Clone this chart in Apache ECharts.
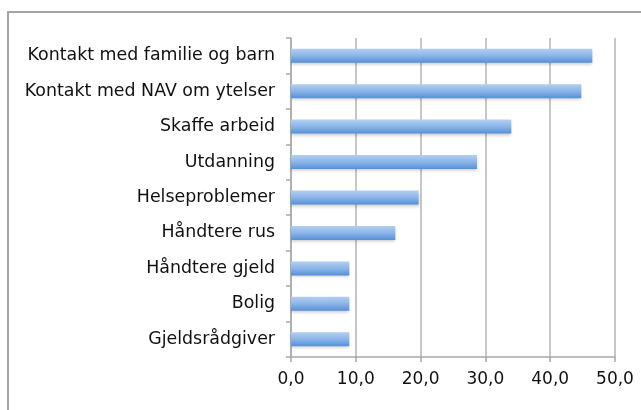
<!DOCTYPE html>
<html>
<head>
<meta charset="utf-8">
<script src="https://cdn.jsdelivr.net/npm/echarts@6/dist/echarts.min.js"></script>
<style>
  html, body { margin: 0; padding: 0; background: #fff; }
  #chart { width: 641px; height: 410px; }
</style>
</head>
<body>
<div id="chart"></div>
<script>
// Categories listed bottom-to-top (ECharts category y-axis starts at the bottom)
const categories = [
  'Gjeldsrådgiver',
  'Bolig',
  'Håndtere gjeld',
  'Håndtere rus',
  'Helseproblemer',
  'Utdanning',
  'Skaffe arbeid',
  'Kontakt med NAV om ytelser',
  'Kontakt med familie og barn'
];
const values = [9.0, 9.0, 9.0, 16.1, 19.7, 28.7, 34.0, 44.8, 46.5];
const xTicks = [0, 10, 20, 30, 40, 50];

const chart = echarts.init(document.getElementById('chart'), null, { renderer: 'canvas' });

const font = 'DejaVu Sans';
const axisGray = '#a8a8a8';

chart.setOption({
  animation: false,
  backgroundColor: '#fff',
  graphic: [{
    type: 'rect',
    shape: { x: 8, y: 12, width: 700, height: 500 },
    style: { fill: 'none', stroke: '#a4a4a4', lineWidth: 2 },
    silent: true
  }],
  grid: { left: 291, right: 26, top: 38, bottom: 53, containLabel: false },
  xAxis: {
    type: 'value',
    min: xTicks[0],
    max: xTicks[xTicks.length - 1],
    interval: 10,
    axisLine: { show: true, lineStyle: { color: axisGray, width: 1.5 } },
    axisTick: { show: true, length: 5, lineStyle: { color: axisGray, width: 1.5 } },
    splitLine: { show: true, lineStyle: { color: '#b4b4b4', width: 1.5 } },
    axisLabel: {
      color: '#111', fontFamily: font, fontSize: 17, margin: 14,
      formatter: v => v.toFixed(1).replace('.', ',')
    }
  },
  yAxis: {
    type: 'category',
    data: categories,
    axisLine: { show: true, lineStyle: { color: axisGray, width: 1.5 } },
    axisTick: { show: true, length: 5, lineStyle: { color: axisGray, width: 1.5 } },
    axisLabel: { color: '#111', fontFamily: font, fontSize: 17.4, margin: 16, padding: [5, 0, 0, 0] }
  },
  series: [{
    type: 'bar',
    data: values,
    barWidth: 14,
    itemStyle: {
      color: new echarts.graphic.LinearGradient(0, 0, 0, 1, [
        { offset: 0, color: '#b3cff1' },
        { offset: 0.5, color: '#8ab5e8' },
        { offset: 1, color: '#5690d8' }
      ]),
      shadowColor: 'rgba(0,0,0,0.2)',
      shadowBlur: 3,
      shadowOffsetY: 2
    }
  }]
});
</script>
</body>
</html>
